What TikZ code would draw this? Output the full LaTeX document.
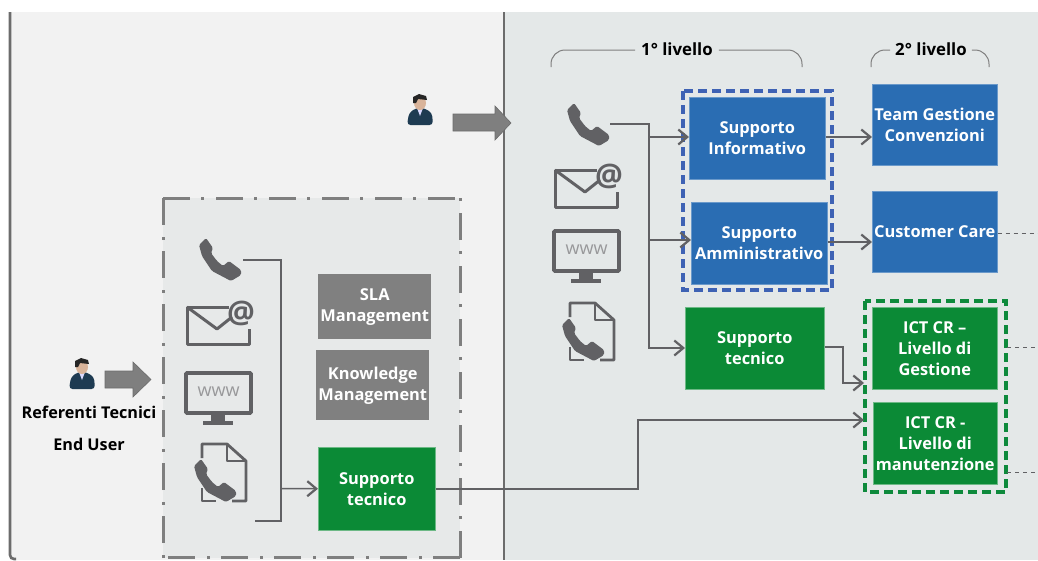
\documentclass[tikz,border=0pt]{standalone}
\usepackage{fontspec}
\setmainfont{Open Sans}
\usetikzlibrary{arrows.meta}
\definecolor{lpanel}{HTML}{F2F2F2}
\definecolor{rpanel}{HTML}{E4E8E8}
\definecolor{lbox}{HTML}{E7E9E9}
\definecolor{rule}{HTML}{7F7F7F}
\definecolor{ink}{HTML}{616164}
\definecolor{bluebox}{HTML}{2A6DB3}
\definecolor{greenbox}{HTML}{0B8A36}
\definecolor{greybox}{HTML}{808080}
\definecolor{bluedash}{HTML}{3E62B4}
\definecolor{greendash}{HTML}{0E8A3C}
\definecolor{navy}{HTML}{1E3B52}
\definecolor{skin}{HTML}{D9B49A}
\tikzset{
  x=1pt,y=-1pt,
  tile/.style={minimum width=#1,inner sep=0pt,text=white,align=center,font=\bfseries\fontsize{16.4}{21}\selectfont,anchor=north west},
  bluetile/.style={tile=#1,fill=bluebox,draw=bluebox!70!white,line width=.5pt},
  greentile/.style={tile=#1,fill=greenbox,draw=greenbox!60!white,line width=.5pt},
  greytile/.style={tile=#1,fill=greybox,line width=.5pt},
  link/.style={draw=ink,line width=1.5pt,-{Straight Barb[length=9pt,width=15pt,line width=2.2pt]}},
  plainlink/.style={draw=ink,line width=1.5pt},
  dotted link/.style={draw=ink,line width=1pt,dash pattern=on 4pt off 4pt},
  brace/.style={draw=rule,line width=1pt},
  heading/.style={font=\bfseries\fontsize{16.8}{18}\selectfont,inner sep=0pt},
  who/.style={font=\bfseries\fontsize{16.2}{18}\selectfont,inner sep=0pt},
  blockarrow/.style={fill=rule,draw=rule!85!black,line width=.6pt,line join=miter},
  phone/.pic={
    \fill[ink,rounded corners=1.5pt] (7,0) -- (0,7) -- (3,18) -- (13,33) -- (32,43) -- (42,37) -- (42,32) -- (30,23) -- (24,28) -- (18,23) -- (12,15) -- (14,10) -- cycle;
  },
  mail/.pic={
    \draw[ink,line width=3pt,line join=round] (42,5) -- (0,5) -- (0,42) -- (62,42) -- (62,27);
    \draw[ink,line width=3pt,line join=round] (0,5) -- (30,27) -- (45,15);
    \node[inner sep=0pt,text=ink,font=\bfseries\fontsize{31}{31}\selectfont] at (54,11) {@};
  },
  monitor/.pic={
    \draw[ink,line width=3.6pt,rounded corners=1pt] (1,1) rectangle (66,41);
    \fill[ink] (26,41) rectangle (40,49);
    \fill[ink] (18,49) rectangle (48,52.5);
    \node[inner sep=0pt,text=ink!65!white,font=\fontsize{18}{17}\selectfont] at (33.5,20) {www};
  },
  faxdoc/.pic={
    \draw[ink,line width=2.8pt,line join=round] (0,14) -- (0,0) -- (25,0) -- (44,17) -- (44,57) -- (30,57);
    \draw[ink,line width=2.2pt,line join=round] (25,0) -- (25,17) -- (44,17);
    \draw[ink,line width=2.8pt,line join=round] (0,44) -- (0,57) -- (14,57);
    \pic at (-8,15) {phone};
  },
  person/.pic={
    \fill[navy,rounded corners=3.5pt] (0,31) -- (2,19) -- (9,14) -- (17,14) -- (25,19) -- (26,31) -- cycle;
    \fill[white!85!blue] (10,14) -- (16,14) -- (13,22) -- cycle;
    \fill[skin] (13,9) ellipse [x radius=6,y radius=7];
    \fill[black!85] (6,9) -- (6,3) -- (12,0) -- (19,2) -- (20,6) -- (11,5) -- (9,9) -- cycle;
  },
}
\begin{document}
\begin{tikzpicture}
\useasboundingbox (0,0) rectangle (1038,560);
\fill[white] (0,0) rectangle (1038,560);
\fill[lpanel] (10,12) rectangle (504,560);
\fill[rpanel] (504,12) rectangle (1038,560);
\draw[rule!85!black,line width=2.6pt,rounded corners=4pt] (10,12) -- (10,559) -- (16,559);
\draw[rule!85!black,line width=2.6pt] (504,12) -- (504,560);

% left dashed area
\fill[lbox] (163,198) rectangle (460,558);
\draw[rule,line width=3pt,dash pattern=on 27pt off 11pt on 3pt off 12pt] (163,198) -- (460,198);
\draw[rule,line width=3pt,dash pattern=on 3pt off 12pt on 27pt off 11pt] (460,198) -- (460,558);
\draw[rule,line width=3pt,dash pattern=on 27pt off 11pt on 3pt off 12pt] (460,557) -- (163,557);
\draw[rule,line width=3pt,dash pattern=on 3pt off 12pt on 27pt off 11pt] (163,558) -- (163,198);

% dashed groups
\draw[bluedash,line width=3.8pt,dash pattern=on 9pt off 5pt] (683,91) rectangle (832,290);
\draw[greendash,line width=3.8pt,dash pattern=on 9pt off 5pt] (865,301) rectangle (1006,492);

% tiles
\node[bluetile=136pt,minimum height=82pt] (si) at (689,97) {Supporto\\Informativo};
\node[bluetile=136pt,minimum height=82pt] (sa) at (691,202) {Supporto\\Amministrativo};
\node[bluetile=125pt,minimum height=81pt] (tg) at (872,84) {Team Gestione\\Convenzioni};
\node[bluetile=125pt,minimum height=81pt] (cc) at (872,191) {Customer Care};
\node[greentile=139pt,minimum height=82pt] (st) at (685,307) {Supporto\\tecnico};
\node[greentile=125pt,minimum height=82pt] (ia) at (872,307) {ICT CR –\\Livello di\\Gestione};
\node[greentile=124pt,minimum height=82pt] (ib) at (873,402) {ICT CR -\\Livello di\\manutenzione};
\node[greytile=113pt,minimum height=65pt] (sla) at (318,274) {SLA\\Management};
\node[greytile=113pt,minimum height=70pt] (km) at (316,350) {Knowledge\\Management};
\node[greentile=117pt,minimum height=83pt] (ls) at (318,447) {Supporto\\tecnico};

% named anchors
\coordinate (gbox) at (864,383);
\coordinate (gboxb) at (864,420);
\coordinate (ph) at (610,124);
\coordinate (lph) at (243,260);
\coordinate (lend) at (255,521);
\coordinate (outa) at (1038,233);
\coordinate (outb) at (1038,347);
\coordinate (outc) at (1038,472);
\coordinate (ga) at (1007,347);
\coordinate (gb) at (1007,472);
\coordinate (bend) at (638,420);

% connectors, right side
\draw[plainlink] (ph) -- (649,124) -- (649,137);
\draw[link] (649,137) -- (si.west |- 649,137);
\draw[link] (649,240) -- (sa.west |- 649,240);
\draw[link] (649,124) -- (649,348) -- (st.west |- 649,348);
\draw[link] (si.east |- 825,137) -- (tg.west |- 825,137);
\draw[link] (sa.east |- 827,242) -- (cc.west |- 827,242);
\draw[link] (st.east |- 824,347) -- (843,347) -- (843,383) -- (gbox);
\draw[link] (ls.east) -| (bend) -- (gboxb);
\draw[dotted link] (cc.east |- 997,233) -- (outa);
\draw[dotted link] (ga) -- (outb);
\draw[dotted link] (gb) -- (outc);

% connectors, left side
\draw[plainlink] (lph) -- (281,260) -- (281,521) -- (lend);
\draw[link] (281,488.5) -- (ls.west);

% headings
\node[heading] (h1) at (677,49) {1° livello};
\node[heading] (h2) at (931,49) {2° livello};
\draw[brace,rounded corners=14pt] (551,67) -- (551,50) -- ([xshift=-6pt]h1.west |- 551,50);
\draw[brace,rounded corners=14pt] (802,67) -- (802,50) -- ([xshift=6pt]h1.east |- 802,50);
\draw[brace,rounded corners=14pt] (871,67) -- (871,50) -- ([xshift=-5pt]h2.west |- 871,50);
\draw[brace,rounded corners=14pt] (989,67) -- (989,50) -- ([xshift=5pt]h2.east |- 989,50);

% icons
\pic at (567,103) {phone};
\pic at (555,165) {mail};
\pic at (553,230) {monitor};
\pic at (570,303) {faxdoc};
\pic at (199,238) {phone};
\pic at (187,302) {mail};
\pic at (185,372) {monitor};
\pic at (202,444) {faxdoc};

% people and block arrows
\pic at (407,94) {person};
\pic at (69,358) {person};
\fill[blockarrow] (453,114) -- (495,114) -- (495,106) -- (511,123) -- (495,140) -- (495,131) -- (453,131) -- cycle;
\fill[blockarrow] (105,371) -- (133,371) -- (133,362) -- (151,379.5) -- (133,397) -- (133,388) -- (105,388) -- cycle;
\node[who] (r1) at (89,412) {Referenti Tecnici};
\node[who] (r2) at (89,444) {End User};
\end{tikzpicture}
\end{document}
